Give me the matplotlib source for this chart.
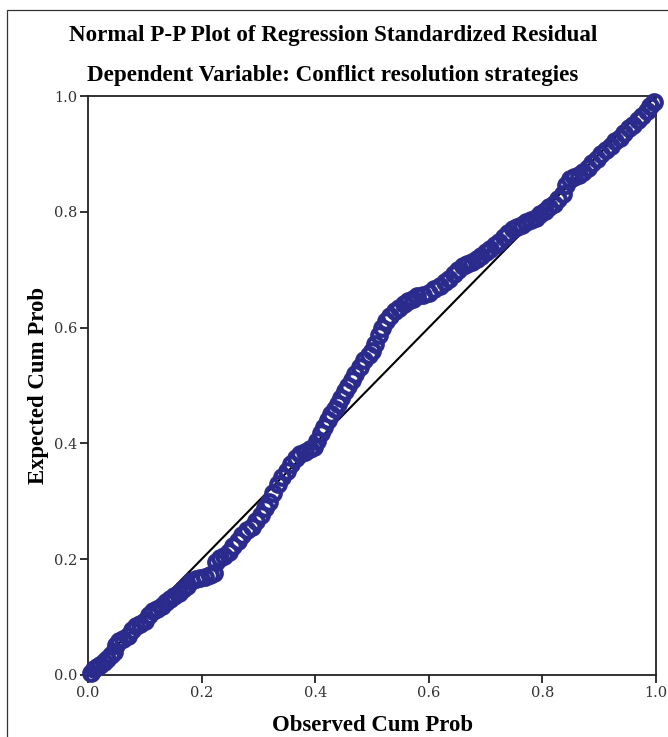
import matplotlib
matplotlib.use("Agg")
import matplotlib.pyplot as plt
from matplotlib.patches import Rectangle

observed = [0.005, 0.010, 0.016, 0.022, 0.028, 0.034, 0.040, 0.046, 0.050, 0.055,
            0.062, 0.070, 0.078, 0.085, 0.092, 0.100, 0.108, 0.115, 0.122, 0.130,
            0.138, 0.145, 0.152, 0.160, 0.168, 0.175, 0.182, 0.190, 0.198, 0.206,
            0.214, 0.222, 0.226, 0.232, 0.240, 0.248, 0.256, 0.264, 0.272, 0.280,
            0.288, 0.296, 0.304, 0.312, 0.318, 0.326, 0.334, 0.342, 0.350, 0.358,
            0.366, 0.374, 0.382, 0.390, 0.398, 0.404, 0.410, 0.416, 0.422, 0.428,
            0.434, 0.440, 0.446, 0.452, 0.458, 0.464, 0.470, 0.478, 0.486, 0.494,
            0.500, 0.506, 0.512, 0.518, 0.524, 0.532, 0.540, 0.548, 0.556, 0.564,
            0.572, 0.580, 0.590, 0.600, 0.610, 0.620, 0.628, 0.636, 0.644, 0.652,
            0.660, 0.668, 0.676, 0.684, 0.692, 0.700, 0.708, 0.716, 0.724, 0.732,
            0.740, 0.748, 0.756, 0.764, 0.772, 0.780, 0.788, 0.796, 0.804, 0.812,
            0.820, 0.828, 0.836, 0.842, 0.848, 0.856, 0.864, 0.872, 0.880, 0.888,
            0.896, 0.904, 0.912, 0.920, 0.928, 0.936, 0.944, 0.952, 0.960, 0.968,
            0.976, 0.984, 0.990, 0.996]
expected = [0.004, 0.010, 0.014, 0.018, 0.022, 0.028, 0.034, 0.040, 0.052, 0.058,
            0.062, 0.068, 0.078, 0.084, 0.088, 0.094, 0.104, 0.110, 0.114, 0.120,
            0.126, 0.132, 0.136, 0.142, 0.148, 0.154, 0.162, 0.166, 0.168, 0.170,
            0.172, 0.176, 0.196, 0.202, 0.206, 0.212, 0.222, 0.232, 0.242, 0.250,
            0.256, 0.266, 0.276, 0.288, 0.298, 0.314, 0.330, 0.342, 0.352, 0.364,
            0.374, 0.382, 0.386, 0.390, 0.394, 0.404, 0.418, 0.428, 0.440, 0.450,
            0.460, 0.468, 0.478, 0.490, 0.500, 0.510, 0.520, 0.532, 0.544, 0.552,
            0.560, 0.572, 0.588, 0.600, 0.612, 0.620, 0.628, 0.634, 0.640, 0.646,
            0.650, 0.654, 0.656, 0.660, 0.666, 0.672, 0.678, 0.684, 0.692, 0.700,
            0.706, 0.710, 0.714, 0.718, 0.724, 0.730, 0.736, 0.742, 0.748, 0.756,
            0.764, 0.770, 0.774, 0.778, 0.782, 0.786, 0.790, 0.796, 0.802, 0.808,
            0.814, 0.822, 0.830, 0.846, 0.856, 0.860, 0.864, 0.868, 0.876, 0.884,
            0.892, 0.900, 0.906, 0.914, 0.922, 0.928, 0.936, 0.944, 0.950, 0.958,
            0.966, 0.974, 0.982, 0.990]

ticks = [0.0, 0.2, 0.4, 0.6, 0.8, 1.0]
tick_labels = ["0.0", "0.2", "0.4", "0.6", "0.8", "1.0"]
title1 = "Normal P-P Plot of Regression Standardized Residual"
title2 = "Dependent Variable: Conflict resolution strategies"
xlabel = "Observed Cum Prob"
ylabel = "Expected Cum Prob"

W, H = 668, 737
fig = plt.figure(figsize=(W / 100, H / 100), dpi=100)
fig.patch.set_facecolor("white")

# outer frame (only left and top visible in the crop)
fig.patches.append(Rectangle((7 / W, -0.1), 2.0, (H - 10) / H + 0.1,
                             transform=fig.transFigure, fill=False,
                             edgecolor="#333333", linewidth=0.9))

ax = fig.add_axes([88 / W, (H - 675) / H, (656 - 88) / W, (675 - 96) / H])
ax.set_xlim(0, 1)
ax.set_ylim(0, 1)

ax.plot([0, 1], [0, 1], color="black", linewidth=1.5, zorder=2)
ax.plot(observed, expected, linestyle="none", marker="o", markersize=10.5,
        markerfacecolor="none", markeredgecolor="#2b2b8e", markeredgewidth=3.0,
        zorder=3, clip_on=False)

for s in ax.spines.values():
    s.set_linewidth(1.3)
    s.set_color("#222222")

ax.set_xticks(ticks)
ax.set_xticklabels(tick_labels)
ax.set_yticks(ticks)
ax.set_yticklabels(tick_labels)
ax.tick_params(direction="out", length=6, width=1.3, colors="#222222", pad=2)
for lab in ax.get_xticklabels() + ax.get_yticklabels():
    lab.set_family("DejaVu Serif")
    lab.set_fontsize(10.5)
    lab.set_color("#333333")

ax.set_xlabel(xlabel, fontfamily="Liberation Serif", fontweight="bold",
              fontsize=16.4, labelpad=11)
ax.set_ylabel(ylabel, fontfamily="Liberation Serif", fontweight="bold",
              fontsize=16.4, labelpad=3)

fig.text(333 / W, (H - 35) / H, title1, ha="center", va="center",
         fontfamily="Liberation Serif", fontweight="bold", fontsize=16.6)
fig.text(333 / W, (H - 76) / H, title2, ha="center", va="center",
         fontfamily="Liberation Serif", fontweight="bold", fontsize=16.6)

fig.savefig("out.png", dpi=100, facecolor="white")
